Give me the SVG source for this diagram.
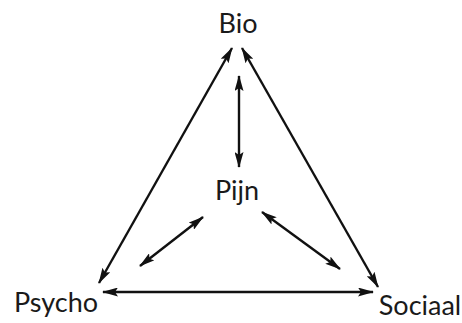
<svg xmlns="http://www.w3.org/2000/svg" width="462" height="323" viewBox="0 0 462 323">
<style>
text{font-family:Lato,"Open Sans","Liberation Sans",sans-serif;font-size:27px;fill:#1a1a1a;text-anchor:middle}
.c line{stroke:#111;stroke-width:2.4;marker-start:url(#ah);marker-end:url(#ah)}
</style>
<defs>
<marker id="ah" viewBox="0 0 16 9" refX="15" refY="4.5" markerWidth="16" markerHeight="9" markerUnits="userSpaceOnUse" orient="auto-start-reverse">
<path d="M0,0 L16,4.5 L0,9 L3,4.5 Z" fill="#111"/>
</marker>
</defs>
<rect width="462" height="323" fill="#fff"/>
<g class="c" id="connectors">
<line x1="232" y1="48" x2="99" y2="283"/>
<line x1="242" y1="48" x2="378" y2="287"/>
<line x1="239" y1="76" x2="239" y2="167"/>
<line x1="203" y1="217" x2="140" y2="266"/>
<line x1="262" y1="212" x2="340" y2="269"/>
<line x1="103" y1="292" x2="373" y2="292"/>
</g>
<g id="bio"><text x="238" y="33">Bio</text></g>
<g id="pijn"><text x="237" y="200">Pijn</text></g>
<g id="psycho"><text x="56" y="312">Psycho</text></g>
<g id="sociaal"><text x="420" y="315">Sociaal</text></g>
</svg>
